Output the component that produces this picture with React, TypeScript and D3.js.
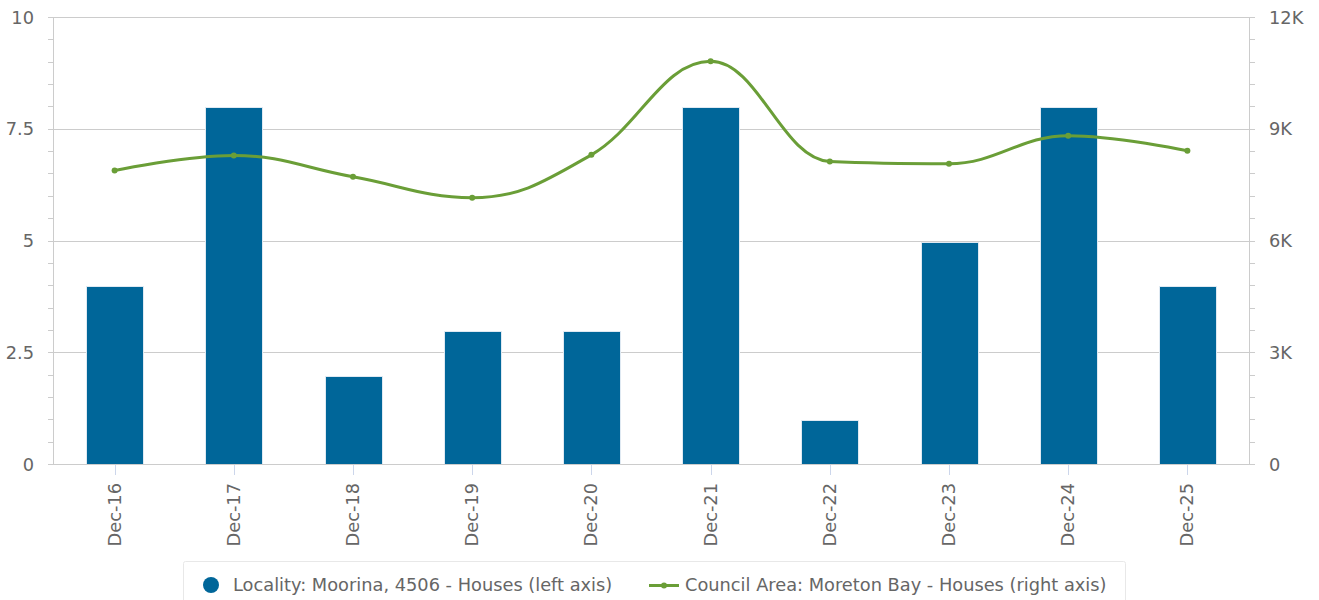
import React, { useRef, useEffect } from "react";
import * as d3 from "d3";

const categories = ["Dec-16", "Dec-17", "Dec-18", "Dec-19", "Dec-20", "Dec-21", "Dec-22", "Dec-23", "Dec-24", "Dec-25"];
const localityHouses = [4, 8, 2, 3, 3, 8, 1, 5, 8, 4];
const councilHouses = [7880, 8285, 7710, 7150, 8300, 10810, 8120, 8060, 8815, 8410];
const leftTicks = [0, 2.5, 5, 7.5, 10];
const rightTicks = [0, 3000, 6000, 9000, 12000];
const legendLabels = ["Locality: Moorina, 4506 - Houses (left axis)", "Council Area: Moreton Bay - Houses (right axis)"];

const width = 1319;
const height = 600;
const margin = { left: 53, right: 1249, top: 17, bottom: 464 };
const barColor = "#006699";
const lineColor = "#6a9e37";
const fontFamily = "'DejaVu Sans', Verdana, sans-serif";
const fontSize = "17.8px";

// highcharts-like spline path
function splinePath(pts) {
  const smoothing = 1.5;
  const denom = smoothing + 1;
  let d = "";
  let prevRight = null;
  pts.forEach((p, i) => {
    const [x, y] = p;
    if (i === 0) {
      d += `M${x},${y}`;
      return;
    }
    const last = pts[i - 1];
    const next = pts[i + 1];
    let lcx = x, lcy = y, right = null;
    if (next) {
      lcx = (smoothing * x + last[0]) / denom;
      lcy = (smoothing * y + last[1]) / denom;
      const rcx = (smoothing * x + next[0]) / denom;
      let rcy = (smoothing * y + next[1]) / denom;
      let corr = 0;
      if (rcx !== lcx) corr = ((rcy - lcy) * (rcx - x)) / (rcx - lcx) + y - rcy;
      lcy += corr;
      rcy += corr;
      if (lcy > last[1] && lcy > y) {
        lcy = Math.max(last[1], y);
        rcy = 2 * y - lcy;
      } else if (lcy < last[1] && lcy < y) {
        lcy = Math.min(last[1], y);
        rcy = 2 * y - lcy;
      }
      if (rcy > next[1] && rcy > y) {
        rcy = Math.max(next[1], y);
        lcy = 2 * y - rcy;
      } else if (rcy < next[1] && rcy < y) {
        rcy = Math.min(next[1], y);
        lcy = 2 * y - rcy;
      }
      right = [rcx, rcy];
    }
    const c1 = prevRight || last;
    d += `C${c1[0]},${c1[1]} ${lcx},${lcy} ${x},${y}`;
    prevRight = right;
  });
  return d;
}

function App() {
  const svgRef = useRef(null);

  useEffect(() => {
    document.body.style.margin = "0";
    const svg = d3.select(svgRef.current);
    svg.selectAll("*").remove();

    const x = d3.scaleBand().domain(categories).range([55, 1247]);
    const yL = d3.scaleLinear().domain([0, 10]).range([margin.bottom, margin.top]);
    const yR = d3.scaleLinear().domain([0, 12000]).range([margin.bottom, margin.top]);
    const cx = (c) => x(c) + x.bandwidth() / 2;

    // grid
    svg
      .append("g")
      .selectAll("line")
      .data(leftTicks)
      .join("line")
      .attr("x1", margin.left)
      .attr("x2", margin.right)
      .attr("y1", (d) => Math.round(yL(d)) + 0.5)
      .attr("y2", (d) => Math.round(yL(d)) + 0.5)
      .attr("stroke", "#cccccc");

    // left axis with minor ticks
    const leftAxis = svg.append("g");
    leftAxis
      .append("line")
      .attr("x1", margin.left + 0.5)
      .attr("x2", margin.left + 0.5)
      .attr("y1", margin.top)
      .attr("y2", margin.bottom)
      .attr("stroke", "#cccccc");
    const minor = d3.range(0, 10.01, 0.5);
    leftAxis
      .selectAll("line.tick")
      .data(minor)
      .join("line")
      .attr("class", "tick")
      .attr("x1", margin.left - 5)
      .attr("x2", margin.left)
      .attr("y1", (d) => Math.round(yL(d)) + 0.5)
      .attr("y2", (d) => Math.round(yL(d)) + 0.5)
      .attr("stroke", "#cccccc");
    leftAxis
      .selectAll("text")
      .data(leftTicks)
      .join("text")
      .attr("x", 34)
      .attr("y", (d) => yL(d) + 6.5)
      .attr("text-anchor", "end")
      .attr("fill", "#666666")
      .attr("font-family", fontFamily)
      .attr("font-size", fontSize)
      .text((d) => String(d));

    // right axis
    const rightAxis = svg.append("g");
    rightAxis
      .append("line")
      .attr("x1", margin.right + 0.5)
      .attr("x2", margin.right + 0.5)
      .attr("y1", margin.top)
      .attr("y2", margin.bottom)
      .attr("stroke", "#cccccc");
    const minorR = d3.range(0, 12001, 600);
    rightAxis
      .selectAll("line.tick")
      .data(minorR)
      .join("line")
      .attr("class", "tick")
      .attr("x1", margin.right)
      .attr("x2", margin.right + 6)
      .attr("y1", (d) => Math.round(yR(d)) + 0.5)
      .attr("y2", (d) => Math.round(yR(d)) + 0.5)
      .attr("stroke", "#cccccc");
    rightAxis
      .selectAll("text")
      .data(rightTicks)
      .join("text")
      .attr("x", 1269)
      .attr("y", (d) => yR(d) + 6.5)
      .attr("text-anchor", "start")
      .attr("fill", "#666666")
      .attr("font-family", fontFamily)
      .attr("font-size", fontSize)
      .text((d) => (d === 0 ? "0" : d / 1000 + "K"));

    // bars (crisp offset like the original renderer)
    const bw = 57;
    svg
      .append("g")
      .selectAll("rect")
      .data(localityHouses)
      .join("rect")
      .attr("x", (d, i) => Math.round(cx(categories[i]) - bw / 2) + 0.5)
      .attr("y", (d) => Math.round(yL(d)) + 1.5)
      .attr("width", bw)
      .attr("height", (d) => Math.round(yL(0)) - Math.round(yL(d)) - 1)
      .attr("fill", barColor)
      .attr("stroke", "#dfe9f2")
      .attr("stroke-width", 1);

    // bottom axis
    svg
      .append("line")
      .attr("x1", margin.left)
      .attr("x2", margin.right + 1)
      .attr("y1", margin.bottom + 0.5)
      .attr("y2", margin.bottom + 0.5)
      .attr("stroke", "#cccccc");
    const xAxis = svg.append("g");
    xAxis
      .selectAll("line")
      .data(categories)
      .join("line")
      .attr("x1", (d) => Math.round(cx(d)) + 0.5)
      .attr("x2", (d) => Math.round(cx(d)) + 0.5)
      .attr("y1", margin.bottom + 1)
      .attr("y2", margin.bottom + 11)
      .attr("stroke", "#ccd6eb");
    xAxis
      .selectAll("text")
      .data(categories)
      .join("text")
      .attr("transform", (d) => `translate(${cx(d) + 6},483) rotate(-90)`)
      .attr("text-anchor", "end")
      .attr("fill", "#666666")
      .attr("font-family", fontFamily)
      .attr("font-size", fontSize)
      .text((d) => d);

    // line
    const pts = councilHouses.map((v, i) => [cx(categories[i]), yR(v)]);
    svg
      .append("path")
      .attr("d", splinePath(pts))
      .attr("fill", "none")
      .attr("stroke", lineColor)
      .attr("stroke-width", 3);
    svg
      .append("g")
      .selectAll("circle")
      .data(pts)
      .join("circle")
      .attr("cx", (d) => d[0])
      .attr("cy", (d) => d[1])
      .attr("r", 3)
      .attr("fill", lineColor);

    // legend
    const lg = svg.append("g");
    lg.append("rect")
      .attr("x", 183.5)
      .attr("y", 561.5)
      .attr("width", 942)
      .attr("height", 60)
      .attr("rx", 2)
      .attr("fill", "#ffffff")
      .attr("stroke", "#e8e8e8");
    lg.append("circle").attr("cx", 211).attr("cy", 585).attr("r", 8).attr("fill", barColor);
    lg.append("text")
      .attr("x", 233)
      .attr("y", 591)
      .attr("fill", "#666666")
      .attr("font-family", fontFamily)
      .attr("font-size", fontSize)
      .text(legendLabels[0]);
    lg.append("line")
      .attr("x1", 649)
      .attr("x2", 679)
      .attr("y1", 585.5)
      .attr("y2", 585.5)
      .attr("stroke", lineColor)
      .attr("stroke-width", 3);
    lg.append("circle").attr("cx", 664).attr("cy", 585.5).attr("r", 3).attr("fill", lineColor);
    lg.append("text")
      .attr("x", 685)
      .attr("y", 591)
      .attr("fill", "#666666")
      .attr("font-family", fontFamily)
      .attr("font-size", fontSize)
      .text(legendLabels[1]);
  }, []);

  return (
    <div>
      <svg ref={svgRef} width={width} height={height} style={{ display: "block" }}></svg>
    </div>
  );
}

export default App;
